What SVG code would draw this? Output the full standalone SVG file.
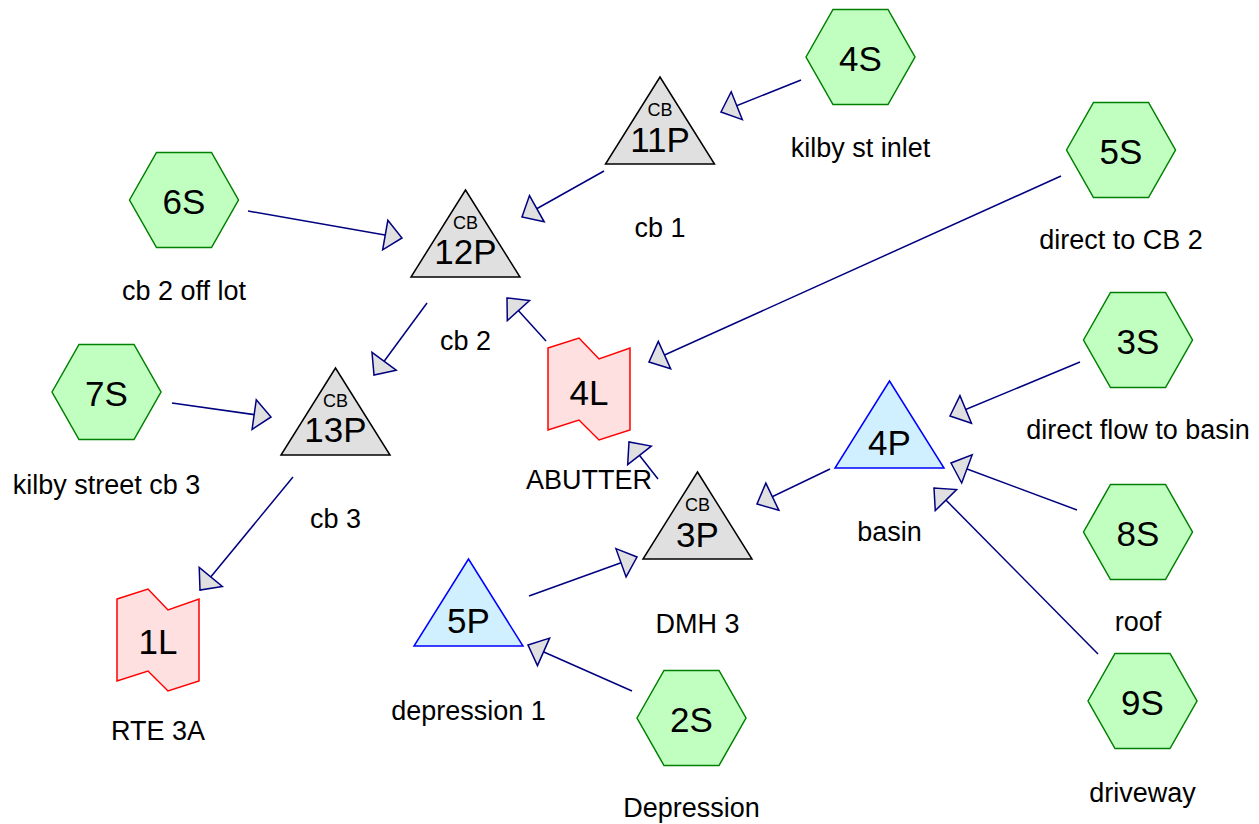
<svg xmlns="http://www.w3.org/2000/svg" xmlns:xlink="http://www.w3.org/1999/xlink" width="1259" height="824" viewBox="0 0 1259 824">
  <style>
    text { font-family: "Liberation Sans", Arial, sans-serif; fill: #000; text-anchor: middle; }
    .id { font-size: 35px; }
    .cb { font-size: 18px; }
    .lbl { font-size: 27px; }
    .sub { fill: #c0ffc0; stroke: #008000; stroke-width: 1.5; }
    .cbp { fill: #e0e0e0; stroke: #000; stroke-width: 1.5; }
    .pond { fill: #d0f0ff; stroke: #0000ff; stroke-width: 1.5; }
    .link { fill: #ffe0e0; stroke: #ff0000; stroke-width: 1.5; }
    .edge { fill: none; stroke: #000080; stroke-width: 1.5; marker-end: url(#arrow); }
  </style>
  <defs>
    <marker id="arrow" markerUnits="userSpaceOnUse" viewBox="-1 -17 19 34" markerWidth="19" markerHeight="34" refX="17" refY="0" orient="auto" overflow="visible">
      <path d="M0,-15 L17,0 L0,15 Z" fill="#e0e0e0" stroke="#000080" stroke-width="1.5" stroke-linejoin="miter"/>
    </marker>
    <polygon id="hex" points="-54.5,0 -27.5,-47.5 27.5,-47.5 54.5,0 27.5,47.5 -27.5,47.5"/>
    <polygon id="tri" points="0,0 54.5,87 -54.5,87"/>
    <polygon id="reach" points="-41,-41 -10,-51 10,-30 41,-41 41,41 10,51 -10,31 -41,41"/>
  </defs>

  <!-- connectors -->
  <g id="edges">
    <line class="edge" x1="801" y1="80" x2="721" y2="112"/>
    <line class="edge" x1="604" y1="171" x2="522" y2="217"/>
    <line class="edge" x1="248" y1="211" x2="402" y2="238"/>
    <line class="edge" x1="427" y1="303" x2="374" y2="375"/>
    <line class="edge" x1="546" y1="341" x2="507" y2="298"/>
    <line class="edge" x1="1061" y1="176" x2="649" y2="362"/>
    <line class="edge" x1="172" y1="403" x2="271" y2="417"/>
    <line class="edge" x1="293" y1="477" x2="200" y2="590"/>
    <line class="edge" x1="1080" y1="362" x2="950" y2="416"/>
    <line class="edge" x1="1077" y1="510" x2="951" y2="463"/>
    <line class="edge" x1="1098" y1="654" x2="934" y2="488"/>
    <line class="edge" x1="830" y1="469" x2="757" y2="504"/>
    <line class="edge" x1="658" y1="479" x2="629" y2="442"/>
    <line class="edge" x1="529" y1="596" x2="637" y2="557"/>
    <line class="edge" x1="632" y1="691" x2="528" y2="645"/>
  </g>

  <!-- subcatchments -->
  <g id="node-4S">
    <use xlink:href="#hex" class="sub" transform="translate(860.5,57)"/>
    <text class="id" x="860.5" y="70.5">4S</text>
    <text class="lbl" x="860.5" y="157">kilby st inlet</text>
  </g>
  <g id="node-6S">
    <use xlink:href="#hex" class="sub" transform="translate(184,200)"/>
    <text class="id" x="184" y="213.5">6S</text>
    <text class="lbl" x="184" y="300">cb 2 off lot</text>
  </g>
  <g id="node-5S">
    <use xlink:href="#hex" class="sub" transform="translate(1121,150)"/>
    <text class="id" x="1121" y="163.5">5S</text>
    <text class="lbl" x="1121" y="249">direct to CB 2</text>
  </g>
  <g id="node-7S">
    <use xlink:href="#hex" class="sub" transform="translate(106.5,392)"/>
    <text class="id" x="106.5" y="405.5">7S</text>
    <text class="lbl" x="106.5" y="494">kilby street cb 3</text>
  </g>
  <g id="node-3S">
    <use xlink:href="#hex" class="sub" transform="translate(1138,340)"/>
    <text class="id" x="1138" y="353.5">3S</text>
    <text class="lbl" x="1138" y="439">direct flow to basin</text>
  </g>
  <g id="node-8S">
    <use xlink:href="#hex" class="sub" transform="translate(1138,532)"/>
    <text class="id" x="1138" y="545.5">8S</text>
    <text class="lbl" x="1138" y="631">roof</text>
  </g>
  <g id="node-9S">
    <use xlink:href="#hex" class="sub" transform="translate(1142.5,701)"/>
    <text class="id" x="1142.5" y="714.5">9S</text>
    <text class="lbl" x="1142.5" y="801.5">driveway</text>
  </g>
  <g id="node-2S">
    <use xlink:href="#hex" class="sub" transform="translate(691.5,718)"/>
    <text class="id" x="691.5" y="731.5">2S</text>
    <text class="lbl" x="691.5" y="816.5">Depression</text>
  </g>

  <!-- catch basins -->
  <g id="node-11P">
    <use xlink:href="#tri" class="cbp" transform="translate(660,77)"/>
    <text class="cb" x="660" y="116">CB</text>
    <text class="id" x="660" y="151.5">11P</text>
    <text class="lbl" x="660" y="237">cb 1</text>
  </g>
  <g id="node-12P">
    <use xlink:href="#tri" class="cbp" transform="translate(465.5,190)"/>
    <text class="cb" x="465.5" y="229">CB</text>
    <text class="id" x="465.5" y="264">12P</text>
    <text class="lbl" x="465.5" y="350">cb 2</text>
  </g>
  <g id="node-13P">
    <use xlink:href="#tri" class="cbp" transform="translate(335.5,368)"/>
    <text class="cb" x="335.5" y="407">CB</text>
    <text class="id" x="335.5" y="442">13P</text>
    <text class="lbl" x="335.5" y="528">cb 3</text>
  </g>
  <g id="node-3P">
    <use xlink:href="#tri" class="cbp" transform="translate(697.5,472)"/>
    <text class="cb" x="697.5" y="511">CB</text>
    <text class="id" x="697.5" y="547">3P</text>
    <text class="lbl" x="697.5" y="632.5">DMH 3</text>
  </g>

  <!-- ponds -->
  <g id="node-5P">
    <use xlink:href="#tri" class="pond" transform="translate(468.5,559)"/>
    <text class="id" x="468.5" y="633">5P</text>
    <text class="lbl" x="468.5" y="720">depression 1</text>
  </g>
  <g id="node-4P">
    <use xlink:href="#tri" class="pond" transform="translate(889.5,381)"/>
    <text class="id" x="889.5" y="455">4P</text>
    <text class="lbl" x="889.5" y="541">basin</text>
  </g>

  <!-- links -->
  <g id="node-4L">
    <use xlink:href="#reach" class="link" transform="translate(589,389)"/>
    <text class="id" x="589" y="405">4L</text>
    <text class="lbl" x="589" y="489">ABUTTER</text>
  </g>
  <g id="node-1L">
    <use xlink:href="#reach" class="link" transform="translate(158,640)"/>
    <text class="id" x="158" y="654">1L</text>
    <text class="lbl" x="158" y="740">RTE 3A</text>
  </g>
</svg>
